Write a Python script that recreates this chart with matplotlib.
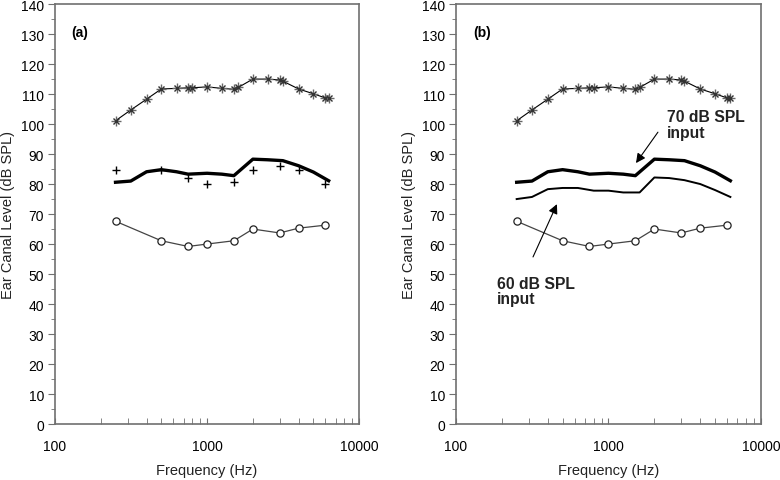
import matplotlib.pyplot as plt
from matplotlib.ticker import FixedLocator, NullFormatter, MultipleLocator

plt.rcParams['font.family'] = ['Liberation Sans', 'DejaVu Sans']

# asterisk series (same in both panels)
f_ast = [250, 315, 400, 500, 630, 750, 800, 1000, 1250, 1500, 1600, 2000, 2500, 3000, 3150, 4000, 5000, 6000, 6300]
y_ast = [101.1, 104.7, 108.3, 111.7, 111.9, 112.1, 112.1, 112.4, 111.9, 111.6, 112.2, 115.0, 115.0, 114.7, 114.3, 111.7, 110.1, 108.7, 108.8]

# 70 dB SPL input curve
f_70 = [250, 315, 400, 500, 630, 750, 1000, 1250, 1500, 2000, 2500, 3150, 4000, 5000, 6300]
y_70 = [80.6, 81.0, 84.1, 84.8, 84.1, 83.3, 83.6, 83.3, 82.8, 88.3, 88.1, 87.8, 86.1, 84.0, 81.1]

# 60 dB SPL input curve (panel b)
f_60 = [250, 315, 400, 500, 630, 800, 1000, 1250, 1600, 2000, 2500, 3150, 4000, 5000, 6300]
y_60 = [75.0, 75.7, 78.3, 78.7, 78.7, 77.8, 77.8, 77.2, 77.2, 82.2, 82.0, 81.3, 80.0, 78.0, 75.7]

# plus markers (panel a)
f_plus = [250, 500, 750, 1000, 1500, 2000, 3000, 4000, 6000]
y_plus = [84.8, 84.8, 82.0, 80.0, 80.8, 84.8, 85.9, 84.8, 80.0]

# circles
f_circ = [250, 500, 750, 1000, 1500, 2000, 3000, 4000, 6000]
y_circ = [67.6, 61.1, 59.2, 60.0, 61.1, 65.0, 63.7, 65.3, 66.3]

fig = plt.figure(figsize=(7.8, 4.81), dpi=100)
ax1 = fig.add_axes([0.0705, 0.1164, 0.390, 0.873])
ax2 = fig.add_axes([0.5846, 0.1164, 0.391, 0.873])

spine_col = '#707070'


def setup(ax, tag):
    ax.set_xscale('log')
    ax.set_xlim(100, 10000)
    ax.set_ylim(0, 140)
    ax.xaxis.set_major_locator(FixedLocator([100, 1000, 10000]))
    ax.set_xticklabels(['100', '1000', '10000'])
    ax.xaxis.set_minor_locator(FixedLocator([200, 300, 400, 500, 600, 700, 800, 900,
                                             2000, 3000, 4000, 5000, 6000, 7000, 8000, 9000]))
    ax.xaxis.set_minor_formatter(NullFormatter())
    ax.yaxis.set_major_locator(MultipleLocator(10))
    ax.yaxis.set_minor_locator(MultipleLocator(5))
    ax.tick_params(axis='x', which='both', direction='in', length=4, color=spine_col, labelsize=10, pad=11)
    ax.tick_params(axis='y', which='major', direction='out', length=5, color=spine_col, labelsize=10, pad=3)
    ax.tick_params(axis='y', which='minor', direction='out', length=3, color=spine_col)
    for s in ax.spines.values():
        s.set_color(spine_col)
        s.set_linewidth(1.2)
    ax.set_xlabel('Frequency (Hz)', fontsize=10.5, color='#222222', labelpad=7)
    ax.set_ylabel('Ear Canal Level (dB SPL)', fontsize=10.5, color='#222222', labelpad=4)
    ax.text(0.055, 0.925, tag, transform=ax.transAxes, fontsize=10, fontweight='bold')


def asterisks(ax):
    ax.plot(f_ast, y_ast, color='black', lw=0.8, zorder=2)
    ax.plot(f_ast, y_ast, ls='none', marker='+', ms=7, mew=1.0, color='#666666', zorder=3)
    ax.plot(f_ast, y_ast, ls='none', marker='x', ms=5, mew=1.0, color='#333333', zorder=3)


def circles(ax):
    ax.plot(f_circ, y_circ, color='#444444', lw=0.9, marker='o', ms=5.2,
            mfc='white', mec='#222222', mew=0.9, zorder=3)


setup(ax1, '(a)')
asterisks(ax1)
ax1.plot(f_70, y_70, color='black', lw=2.4, zorder=2)
ax1.plot(f_plus, y_plus, ls='none', marker='+', ms=6, mew=1.0, color='black', zorder=3)
circles(ax1)

setup(ax2, '(b)')
asterisks(ax2)
ax2.plot(f_70, y_70, color='black', lw=2.4, zorder=2)
ax2.plot(f_60, y_60, color='black', lw=1.4, zorder=2)
circles(ax2)

arrow = dict(arrowstyle='-|>', color='black', lw=0.8, mutation_scale=14, shrinkA=0, shrinkB=0)
ax2.text(2420, 105, '70 dB SPL\ninput', fontsize=11.3, fontweight='bold', color='#222222',
         va='top', ha='left', linespacing=1.05)
ax2.annotate('', xy=(1515, 87), xytext=(2110, 97.3), arrowprops=arrow)
ax2.annotate('', xy=(459, 73.3), xytext=(320, 55.7), arrowprops=arrow)
ax2.text(186, 49.4, '60 dB SPL\ninput', fontsize=11.3, fontweight='bold', color='#222222',
         va='top', ha='left', linespacing=1.05)

fig.savefig('out.png', dpi=100)
